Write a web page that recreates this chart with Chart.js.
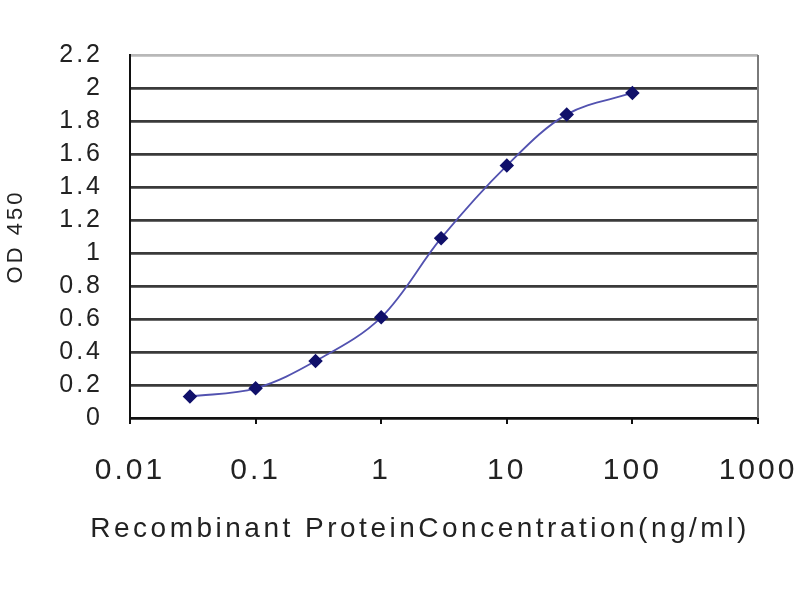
<!DOCTYPE html>
<html>
<head>
<meta charset="utf-8">
<script src="https://cdn.jsdelivr.net/npm/chart.js@4"></script>
<style>
  html, body { margin: 0; padding: 0; background: #fff; }
  #wrap { width: 800px; height: 600px; }
</style>
</head>
<body>
<div id="wrap"><canvas id="odChart" width="800" height="600"></canvas></div>
<script>
// concentrations (ng/ml) and measured OD 450
const concentrations = [0.03, 0.1, 0.3, 1, 3, 10, 30, 100];
const odValues = [0.13, 0.18, 0.345, 0.61, 1.09, 1.53, 1.84, 1.97];
const xTicks = [0.01, 0.1, 1, 10, 100, 1000];
const xTickLabels = ['0.01', '0.1', '1', '10', '100', '1000'];
const xTitle = 'Recombinant ProteinConcentration(ng/ml)';

// the source image has wide, stretched lettering
const wideText = {
    id: 'wideText',
    beforeUpdate(chart) { chart.ctx.letterSpacing = '3px'; },
    beforeDraw(chart) { chart.ctx.letterSpacing = '3px'; }
};

// grey frame on the right and the x axis title
const frameAndTitle = {
    id: 'frameAndTitle',
    afterDraw(chart) {
        const { ctx, chartArea } = chart;
        ctx.save();
        ctx.strokeStyle = '#7a7a7a';
        ctx.lineWidth = 2;
        ctx.beginPath();
        ctx.moveTo(chartArea.right, chartArea.top);
        ctx.lineTo(chartArea.right, chartArea.bottom);
        ctx.stroke();

        ctx.fillStyle = '#222';
        ctx.font = '28px "Liberation Sans"';
        ctx.letterSpacing = '3.5px';
        ctx.textAlign = 'center';
        ctx.textBaseline = 'middle';
        ctx.fillText(xTitle, 420, 529);
        ctx.restore();
    }
};

function initChart() {
    const ctx = document.getElementById('odChart')?.getContext('2d');
    if (!ctx) return;

    new Chart(ctx, {
        type: 'line',
        data: {
            datasets: [{
                label: 'OD 450',
                data: concentrations.map((c, i) => ({ x: c, y: odValues[i] })),
                borderColor: '#5252b0',
                borderWidth: 1.8,
                tension: 0.35,
                pointStyle: 'rectRot',
                pointRadius: 6,
                pointBackgroundColor: '#10106a',
                pointBorderColor: '#10106a',
                fill: false
            }]
        },
        plugins: [wideText, frameAndTitle],
        options: {
            responsive: false,
            animation: false,
            layout: { padding: { top: 55, right: 42, left: 0, bottom: 0 } },
            plugins: { legend: { display: false }, tooltip: { enabled: false } },
            scales: {
                x: {
                    type: 'logarithmic',
                    min: 0.01,
                    max: 1000,
                    afterBuildTicks: scale => { scale.ticks = xTicks.map(v => ({ value: v })); },
                    afterFit: scale => {
                        scale.height = 182;
                        scale.paddingLeft = 0;
                        scale.paddingRight = 0;
                    },
                    ticks: {
                        autoSkip: false,
                        maxRotation: 0,
                        padding: 29,
                        color: '#222',
                        font: { family: 'Liberation Sans', size: 30 },
                        callback: v => xTickLabels[xTicks.indexOf(v)] ?? ''
                    },
                    grid: { drawOnChartArea: false, drawTicks: true, tickLength: 6, color: '#111', lineWidth: 2 },
                    border: { color: '#111', width: 2 }
                },
                y: {
                    min: 0,
                    max: 2.2,
                    afterFit: scale => {
                        scale.width = 130;
                        scale.paddingTop = 0;
                        scale.paddingBottom = 0;
                    },
                    ticks: {
                        stepSize: 0.2,
                        autoSkip: false,
                        padding: 27,
                        color: '#222',
                        font: { family: 'Liberation Sans', size: 25 },
                        callback: v => String(Number(v.toFixed(1)))
                    },
                    grid: {
                        drawTicks: false,
                        lineWidth: 2.8,
                        color: c => Math.abs(c.tick.value - 2.2) < 1e-6 ? '#b8b8b8' : (c.tick.value === 0 ? '#111' : '#3a3a3a')
                    },
                    border: { color: '#111', width: 2 },
                    title: {
                        display: true,
                        text: 'OD 450',
                        color: '#222',
                        font: { family: 'Liberation Sans', size: 22 },
                        padding: { top: 3, bottom: 0 }
                    }
                }
            }
        }
    });
}

document.addEventListener('DOMContentLoaded', () => {
    initChart();
});
</script>
</body>
</html>
